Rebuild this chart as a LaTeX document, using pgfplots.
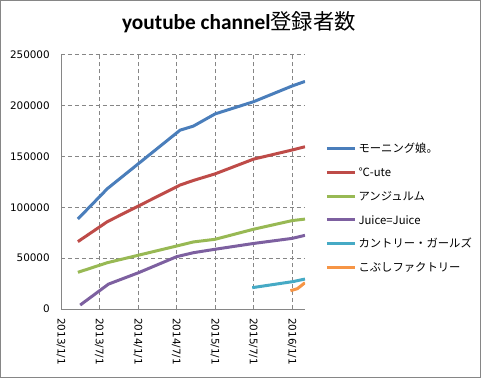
\documentclass[border=0pt]{standalone}
\usepackage{pgfplots}
\pgfplotsset{compat=1.18}
\usepackage{fontspec}
\setmainfont{DejaVu Sans}
\newfontfamily\cjk{Noto Sans CJK JP}
\newfontfamily\carlito{Carlito}
\definecolor{cblue}{HTML}{4A7EBB}
\definecolor{cred}{HTML}{BE4B48}
\definecolor{cgreen}{HTML}{98B954}
\definecolor{cpurple}{HTML}{7D60A0}
\definecolor{cteal}{HTML}{46AAC5}
\definecolor{corange}{HTML}{F69546}
\definecolor{cgrid}{HTML}{868686}
\begin{document}
\begin{tikzpicture}
\useasboundingbox (0,0) rectangle (360.75pt,283.5pt);
\draw[cgrid, line width=0.75pt] (0.375pt,0.375pt) rectangle (360.375pt,283.125pt);
\node[anchor=base, inner sep=0pt] at (179.2pt,261.5pt)
  {\fontsize{16}{19}\selectfont{\carlito\bfseries youtube channel}{\cjk 登録者数}};
\begin{axis}[
  at={(45.75pt,51.75pt)}, anchor=south west,
  scale only axis, width=183pt, height=190.5pt,
  xmin=0, xmax=1156, ymin=0, ymax=250000,
  axis x line*=bottom, axis y line*=left,
  axis line style={cgrid, line width=0.75pt, -},
  xtick={0,181,365,546,730,911,1095},
  xticklabels={2013/1/1,2013/7/1,2014/1/1,2014/7/1,2015/1/1,2015/7/1,2016/1/1},
  ytick={0,50000,100000,150000,200000,250000},
  scaled y ticks=false,
  yticklabel style={/pgf/number format/.cd, fixed, 1000 sep={}, assume math mode=true},
  tick label style={font=\fontsize{7.8}{9}\selectfont, inner sep=0pt},
  xticklabel style={rotate=-90, anchor=west},
  xticklabel shift=6.75pt,
  yticklabel shift=8.25pt,
  major tick length=0pt,
  grid=major,
  major grid style={cgrid, line width=0.75pt, dash pattern=on 3pt off 2.2pt},
  every axis plot/.append style={line width=2.25pt, no markers, line join=round},
  legend cell align=left,
  legend image code/.code={\draw[#1, line width=2.25pt] (0pt,0pt) -- (21pt,0pt);},
  legend style={draw=none, fill=none, inner sep=0pt,
    at={(axis description cs:1.082,0.659)}, anchor=north west,
    row sep=7.8pt, column sep=1.7pt,
    nodes={inner sep=0pt, text height=8.2pt, text depth=1.8pt,
      font=\cjk\fontsize{8.5}{10}\selectfont}},
]
\addplot[cblue] coordinates {(80,88600)(220,118500)(564,176000)(627,180000)(730,192000)(912,204000)(1095,219500)(1156,224000)};
\addlegendentry{モーニング娘。}
\addplot[cred] coordinates {(80,66300)(220,86000)(564,122000)(627,126500)(730,133000)(912,147500)(1095,156500)(1156,159700)};
\addlegendentry{℃-ute}
\addplot[cgreen] coordinates {(80,36100)(220,45600)(548,62000)(627,66000)(730,68600)(912,78500)(1095,87000)(1156,88500)};
\addlegendentry{アンジュルム}
\addplot[cpurple] coordinates {(91,3900)(225,24500)(367,35700)(548,51500)(627,55400)(730,58800)(912,64500)(1095,69500)(1156,72500)};
\addlegendentry{Juice=Juice}
\addplot[cteal] coordinates {(906,21000)(1100,27000)(1156,29500)};
\addlegendentry{カントリー・ガールズ}
\addplot[corange] coordinates {(1087,18000)(1120,20000)(1156,25900)};
\addlegendentry{こぶしファクトリー}
\end{axis}
\end{tikzpicture}
\end{document}
